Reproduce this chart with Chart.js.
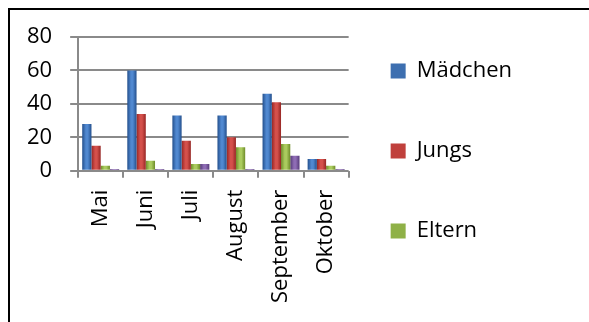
<!DOCTYPE html>
<html>
<head>
<meta charset="utf-8">
<script src="https://cdn.jsdelivr.net/npm/chart.js@4"></script>
<style>
  html, body { margin: 0; padding: 0; background: #fff; }
  #wrap { position: relative; width: 589px; height: 322px; }
  #frame { position: absolute; left: 8px; top: 8px; right: 0; bottom: 0;
           border-top: 2px solid #000; border-left: 2px solid #000; pointer-events: none; }
  canvas { position: absolute; left: 0; top: 0; }
</style>
</head>
<body>
<div id="wrap">
  <canvas id="chart" width="589" height="322"></canvas>
  <div id="frame"></div>
</div>
<script>
const months = ["Mai", "Juni", "Juli", "August", "September", "Oktober"];
const seriesNames = ["Mädchen", "Jungs", "Eltern", "Sonstige"];
const maedchen = [28, 60, 33, 33, 46, 7];
const jungs = [15, 34, 18, 20, 41, 7];
const eltern = [3, 6, 4, 14, 16, 3];
const sonstige = [1, 1, 4, 1, 9, 1];
const yTicks = [0, 20, 40, 60, 80];

// edge / middle colours of the shaded bars
const shades = [
  ["#234f8c", "#5088d0"],
  ["#962624", "#d4504b"],
  ["#6e8c2a", "#aacb5e"],
  ["#553a78", "#8e6cb4"],
];
const legendColors = ["#3d6fb0", "#c0403c", "#8fb147"];

const catPct = 0.82;

function barFill(ctx) {
  const chart = ctx.chart;
  const x = chart.scales.x;
  if (!x || ctx.dataIndex === undefined) return shades[ctx.datasetIndex][1];
  const catW = x.width / months.length;
  const barW = catW * catPct / 4;
  const left = x.getPixelForValue(ctx.dataIndex) - catW * catPct / 2 + ctx.datasetIndex * barW;
  const g = chart.ctx.createLinearGradient(left, 0, left + barW, 0);
  const [edge, mid] = shades[ctx.datasetIndex];
  g.addColorStop(0, edge);
  g.addColorStop(0.4, mid);
  g.addColorStop(0.6, mid);
  g.addColorStop(1, edge);
  return g;
}

const font = "Open Sans";
const gridGray = "#8a8a8a";

new Chart(document.getElementById("chart"), {
  type: "bar",
  data: {
    labels: months,
    datasets: [maedchen, jungs, eltern, sonstige].map((d, i) => ({
      label: seriesNames[i],
      data: d,
      backgroundColor: barFill,
      borderWidth: 0,
      categoryPercentage: catPct,
      barPercentage: 1,
    })),
  },
  options: {
    responsive: false,
    animation: false,
    layout: { padding: { top: 18, left: 9, right: 67, bottom: 7 } },
    plugins: {
      tooltip: { enabled: false },
      legend: {
        position: "right",
        align: "start",
        maxWidth: 241,
        labels: {
          boxWidth: 15,
          boxHeight: 15,
          padding: 42,
          color: "#000",
          font: { family: font, size: 22, lineHeight: "38px" },
          generateLabels: () =>
            legendColors.map((c, i) => ({
              text: [seriesNames[i]],
              fillStyle: c,
              strokeStyle: c,
              lineWidth: 0,
              datasetIndex: i,
            })),
        },
      },
    },
    scales: {
      x: {
        offset: true,
        grid: {
          offset: true,
          drawOnChartArea: false,
          drawTicks: true,
          tickLength: 7,
          color: gridGray,
          lineWidth: 2,
        },
        border: { display: false },
        ticks: {
          minRotation: 90,
          maxRotation: 90,
          autoSkip: false,
          padding: 12,
          color: "#000",
          font: { family: font, size: 22 },
        },
      },
      y: {
        min: 0,
        max: 80,
        afterBuildTicks: (s) => { s.ticks = yTicks.map((v) => ({ value: v })); },
        grid: { color: gridGray, lineWidth: 2, tickLength: 8 },
        border: { color: gridGray, width: 2 },
        ticks: {
          autoSkip: false,
          padding: 18,
          color: "#000",
          font: { family: font, size: 22, lineHeight: "38px" },
        },
      },
    },
  },
});
</script>
</body>
</html>
